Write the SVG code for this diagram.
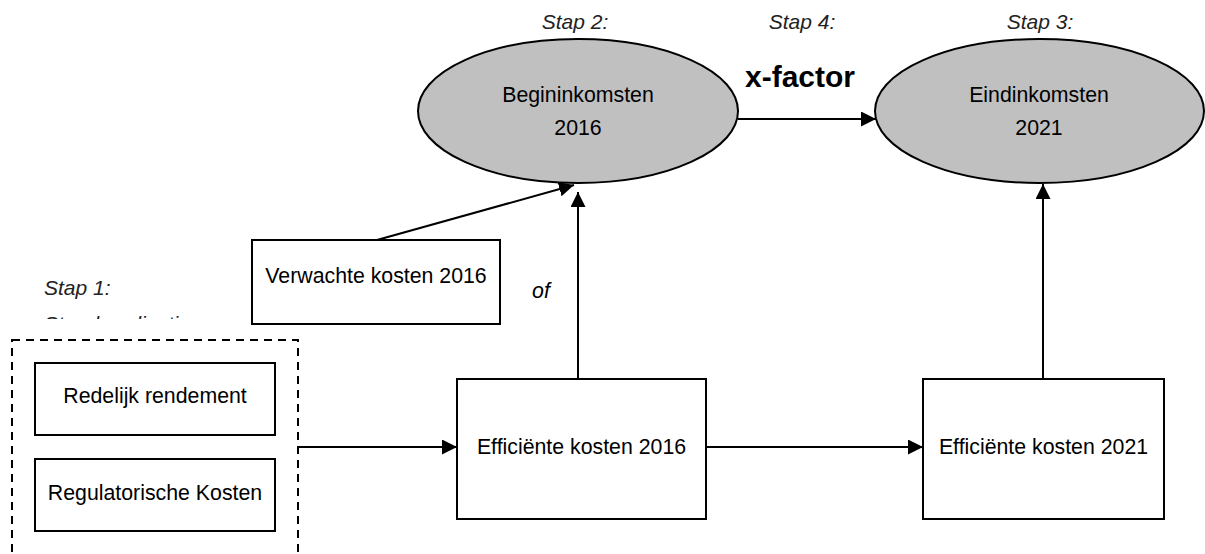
<svg xmlns="http://www.w3.org/2000/svg" width="1205" height="554" viewBox="0 0 1205 554">
<style>
.box{fill:#fff;stroke:#000;stroke-width:2}
.ell{fill:#c0c0c0;stroke:#000;stroke-width:2}
.t{font-family:"Liberation Sans",Arial,sans-serif;font-size:21.3px;fill:#000;text-anchor:middle}
.stap{font-family:"Liberation Sans",Arial,sans-serif;font-style:italic;font-size:21px;fill:#222;text-anchor:middle}
.con{stroke:#000;stroke-width:2;fill:none}
</style>
<defs>
<marker id="ah" viewBox="0 0 15 15" refX="15" refY="7.5" markerWidth="15" markerHeight="15" markerUnits="userSpaceOnUse" orient="auto">
<path d="M0,0 L15,7.5 L0,15 Z" fill="#000"/>
</marker>
<clipPath id="clipStap1"><rect x="0" y="270" width="300" height="49"/></clipPath>
</defs>
<rect width="1205" height="554" fill="#fff"/>

<g id="labels">
<text class="stap" x="575" y="29">Stap 2:</text>
<text class="stap" x="802" y="29">Stap 4:</text>
<text class="stap" x="1040" y="29">Stap 3:</text>
<text x="800" y="87" font-family="'Liberation Sans',Arial,sans-serif" font-weight="bold" font-size="30" text-anchor="middle" fill="#000">x-factor</text>
<text x="541" y="298" font-family="'Liberation Sans',Arial,sans-serif" font-style="italic" font-size="21.3" text-anchor="middle" fill="#000">of</text>
<g clip-path="url(#clipStap1)">
<text class="stap" x="44" y="295" style="text-anchor:start">Stap 1:</text>
<text class="stap" x="44" y="331" style="text-anchor:start">Standaardisatie</text>
</g>
</g>

<g id="stap1-group">
<rect x="12" y="340" width="286" height="240" fill="none" stroke="#000" stroke-width="2" stroke-dasharray="8,6"/>
</g>

<g id="redelijk">
<rect class="box" x="35" y="363" width="240" height="72"/>
<text class="t" x="155" y="403">Redelijk rendement</text>
</g>

<g id="regulatorisch">
<rect class="box" x="35" y="459" width="240" height="72"/>
<text class="t" x="155" y="500">Regulatorische Kosten</text>
</g>

<g id="begininkomsten">
<ellipse class="ell" cx="578" cy="111" rx="160" ry="72"/>
<text class="t" x="578" y="102">Begininkomsten</text>
<text class="t" x="578" y="135">2016</text>
</g>

<g id="eindinkomsten">
<ellipse class="ell" cx="1039.5" cy="111" rx="164.5" ry="72"/>
<text class="t" x="1039" y="102">Eindinkomsten</text>
<text class="t" x="1039" y="135">2021</text>
</g>

<g id="verwachte">
<rect class="box" x="252" y="240" width="248" height="84"/>
<text class="t" x="376" y="283">Verwachte kosten 2016</text>
</g>

<g id="efficient2016">
<rect class="box" x="457" y="379" width="249" height="140"/>
<text class="t" x="581.5" y="454">Efficiënte kosten 2016</text>
</g>

<g id="efficient2021">
<rect class="box" x="923" y="379" width="241" height="140"/>
<text class="t" x="1043.5" y="454">Efficiënte kosten 2021</text>
</g>

<g id="connectors">
<line class="con" x1="738" y1="119" x2="876" y2="119" marker-end="url(#ah)"/>
<line class="con" x1="377" y1="240" x2="574" y2="185" marker-end="url(#ah)"/>
<line class="con" x1="578" y1="379" x2="578" y2="192" marker-end="url(#ah)"/>
<line class="con" x1="1043" y1="379" x2="1043" y2="184" marker-end="url(#ah)"/>
<line class="con" x1="298" y1="447" x2="457" y2="447" marker-end="url(#ah)"/>
<line class="con" x1="706" y1="447" x2="923" y2="447" marker-end="url(#ah)"/>
</g>
</svg>
